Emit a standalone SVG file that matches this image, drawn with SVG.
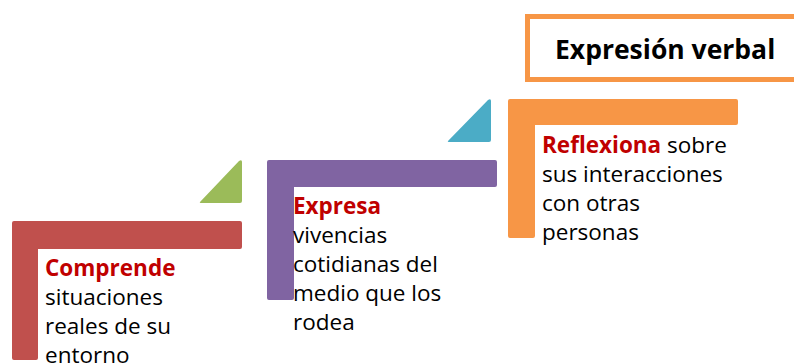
<svg xmlns="http://www.w3.org/2000/svg" width="794" height="363" viewBox="0 0 794 363">
<style>
.t{font-family:"Open Sans","Noto Sans",sans-serif;font-size:22.5px;fill:#000}
.k{font-weight:bold;fill:#C00000}
.h{font-family:"Open Sans","Noto Sans",sans-serif;font-size:26.5px;font-weight:bold;fill:#000}
</style>
<rect width="794" height="363" fill="#fff"/>
<g id="title">
<rect x="527.5" y="16.5" width="275" height="63" fill="#fff" stroke="#F79646" stroke-width="5"/>
<text class="h" x="555" y="59">Expresión verbal</text>
</g>
<g id="step1">
<path d="M12 223 Q12 221 14 221 L240 221 Q242 221 242 223 L242 247 Q242 249 240 249 L38 249 L38 358 Q38 360 36 360 L14 360 Q12 360 12 358 Z" fill="#C0504D"/>
<text class="t" x="45" y="276"><tspan class="k">Comprende</tspan><tspan x="45" dy="29">situaciones</tspan><tspan x="45" dy="29">reales de su</tspan><tspan x="45" dy="29">entorno</tspan></text>
</g>
<g id="tri1"><path d="M242 162 L242 201 Q242 203 240 203 L201 203 Q199 203 200 202 L239 161 Q242 159 242 162 Z" fill="#9BBB59"/></g>
<g id="step2">
<path d="M267 162 Q267 160 269 160 L495 160 Q497 160 497 162 L497 185 Q497 187 495 187 L294 187 L294 298 Q294 300 292 300 L269 300 Q267 300 267 298 Z" fill="#8064A2"/>
<text class="t" x="293" y="214"><tspan class="k">Expresa</tspan><tspan x="293" dy="29">vivencias</tspan><tspan x="293" dy="29">cotidianas del</tspan><tspan x="293" dy="29">medio que los</tspan><tspan x="293" dy="29">rodea</tspan></text>
</g>
<g id="tri2"><path d="M491 101 L491 140 Q491 142 489 142 L449 142 Q447 142 448 141 L488 100 Q491 98 491 101 Z" fill="#4BACC6"/></g>
<g id="step3">
<path d="M508 101 Q508 99 510 99 L736 99 Q738 99 738 101 L738 123 Q738 125 736 125 L535 125 L535 236 Q535 238 533 238 L510 238 Q508 238 508 236 Z" fill="#F79646"/>
<text class="t" x="542" y="153"><tspan class="k">Reflexiona</tspan> sobre<tspan x="542" dy="29">sus interacciones</tspan><tspan x="542" dy="29">con otras</tspan><tspan x="542" dy="29">personas</tspan></text>
</g>
</svg>
